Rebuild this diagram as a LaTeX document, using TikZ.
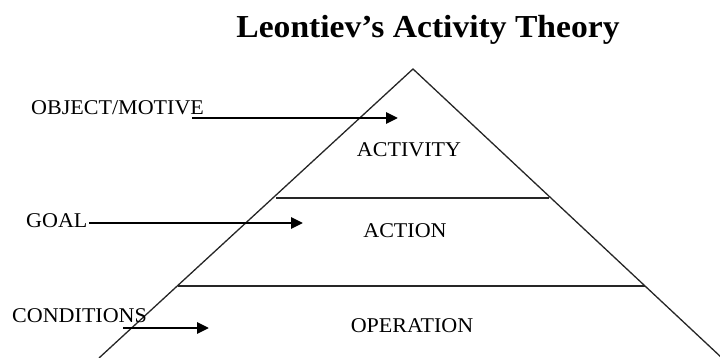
\documentclass[tikz,border=0pt]{standalone}
\usepackage{fontspec}
\setmainfont{Liberation Serif}[FakeStretch=1.05]
\usetikzlibrary{arrows.meta}
\tikzset{
  lbl/.style={inner sep=0pt, font=\fontsize{21}{21}\selectfont},
  lvl/.style={inner sep=0pt, font=\fontsize{21}{21}\selectfont},
  edge/.style={line width=1.3pt, black!85},
  arr/.style={line width=2.8pt, -{Triangle[length=12pt,width=11pt]}},
}
\begin{document}
\begin{tikzpicture}[x=1pt,y=-1pt]
\useasboundingbox (0,0) rectangle (720,358);
% title
\node[inner sep=0pt, anchor=base, font=\bfseries\fontsize{32}{32}\selectfont] (title) at (428,38) {Leontiev’s Activity Theory};
% pyramid
\coordinate (apex) at (413,69);
\coordinate (bl) at (99,358);
\coordinate (br) at (722,358);
\draw[edge] (bl) -- (apex) -- (br);
\coordinate (l1a) at (276,198);
\coordinate (l1b) at (549,198);
\coordinate (l2a) at (178,286);
\coordinate (l2b) at (645,286);
\draw[edge] (l1a) -- (l1b);
\draw[edge] (l2a) -- (l2b);
% level labels
\node[lvl, anchor=base] (activity) at (409,157) {ACTIVITY};
\node[lvl, anchor=base] (action) at (405,237) {ACTION};
\node[lvl, anchor=base] (operation) at (412,332) {OPERATION};
% side labels
\node[lbl, anchor=base west] (object) at (31,115) {OBJECT/MOTIVE};
\node[lbl, anchor=base west] (goal) at (26,227) {GOAL};
\node[lbl, anchor=base west] (cond) at (12,322) {CONDITIONS};
% arrows
\coordinate (oa) at (192,118);
\coordinate (ob) at (398,118);
\coordinate (ga) at (89,223);
\coordinate (gb) at (303,223);
\coordinate (ca) at (123,328);
\coordinate (cb) at (209,328);
\draw[arr] (oa) -- (ob);
\draw[arr] (ga) -- (gb);
\draw[arr] (ca) -- (cb);
\end{tikzpicture}
\end{document}
